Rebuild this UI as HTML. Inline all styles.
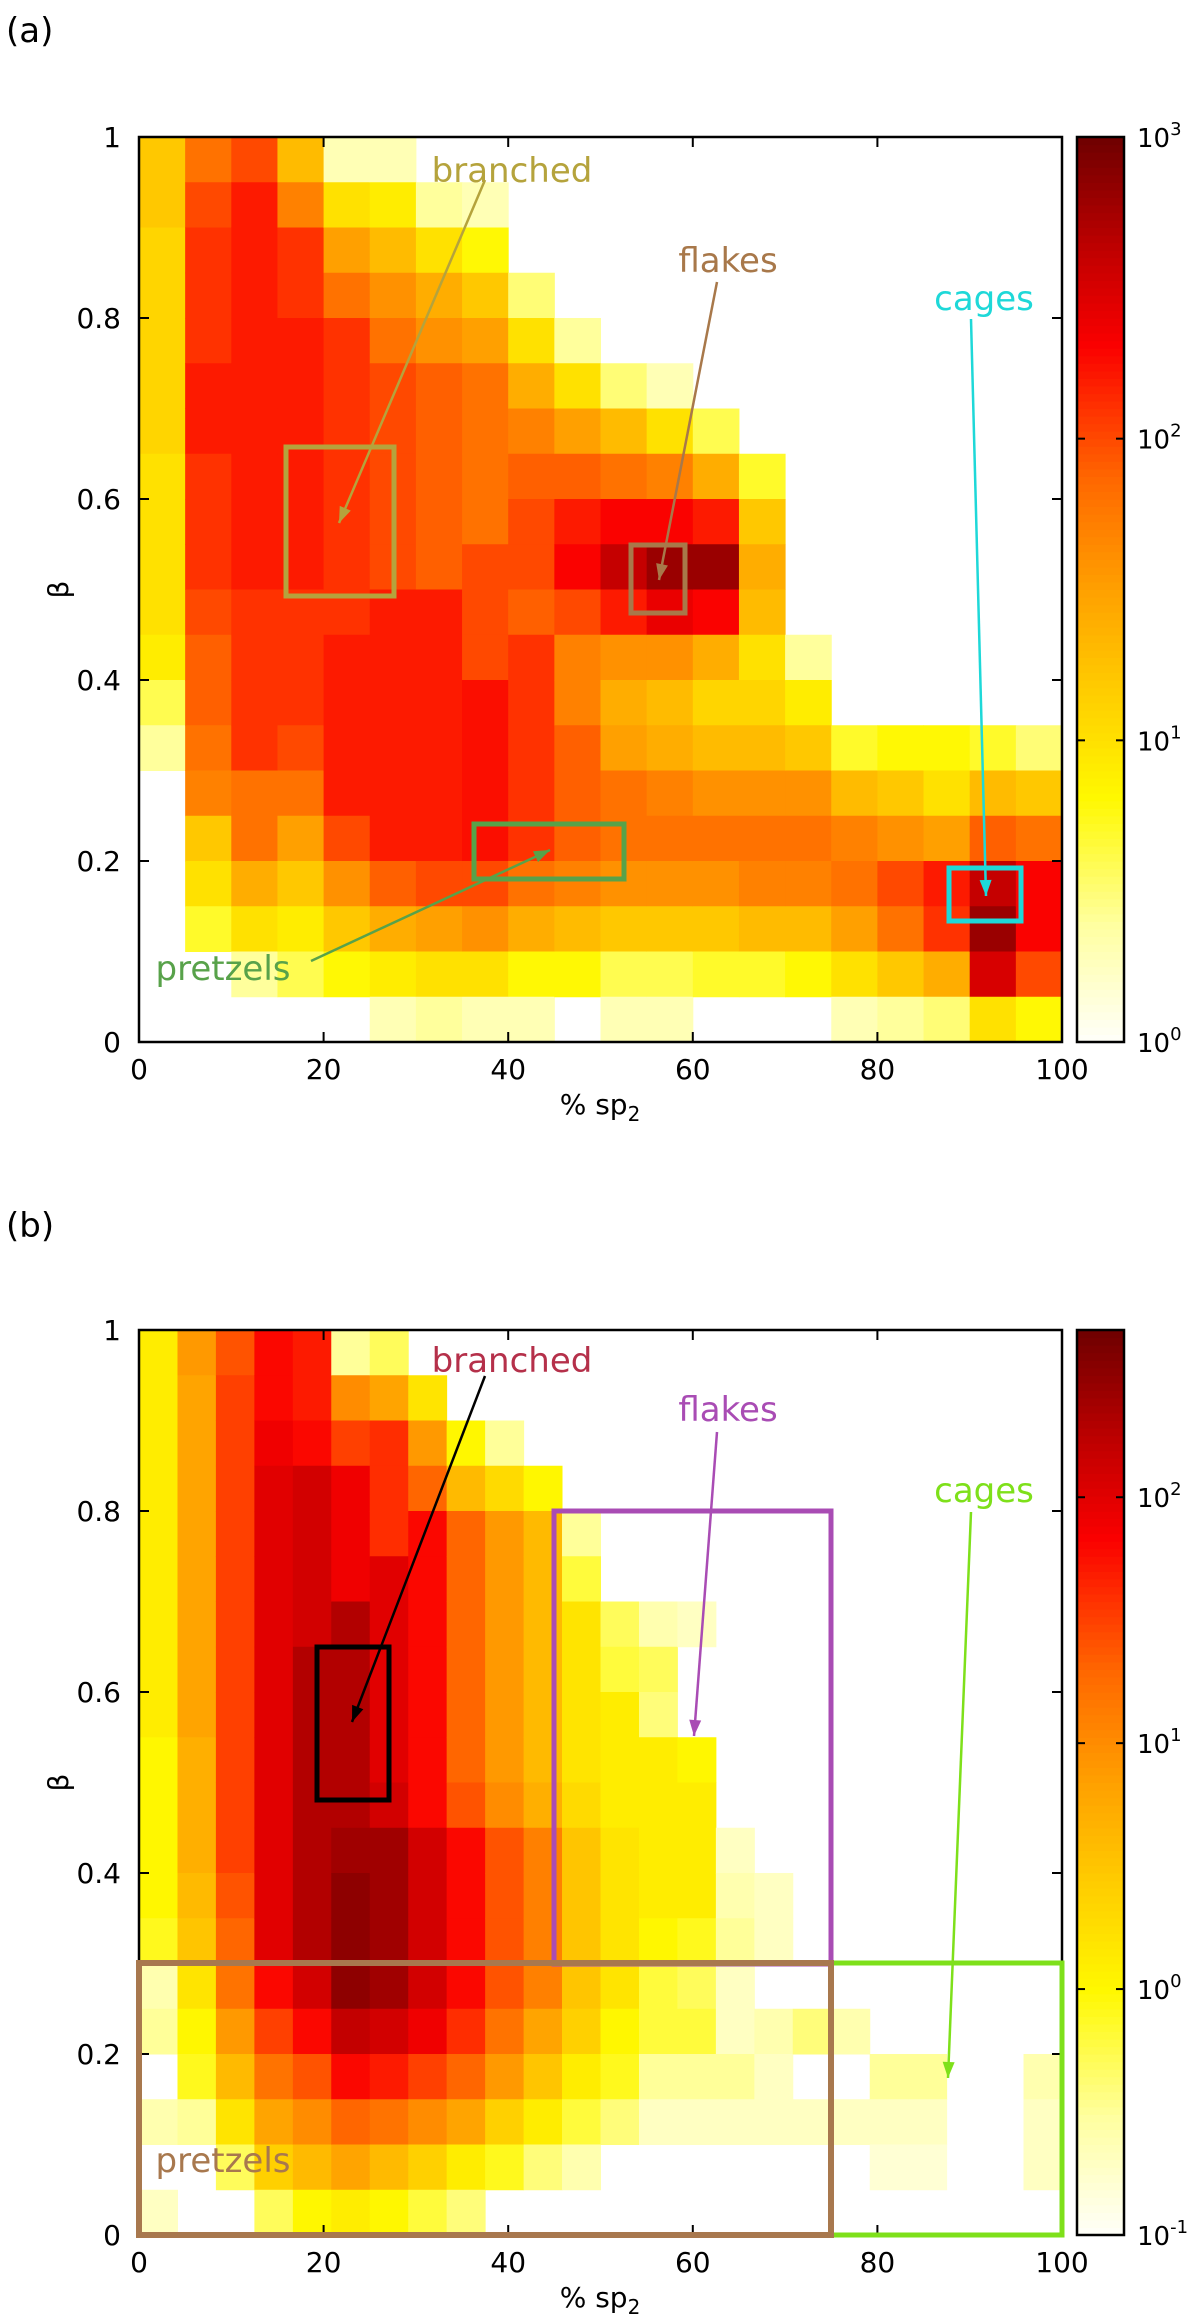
<!DOCTYPE html>
<html><head><meta charset="utf-8"><style>
html,body{margin:0;padding:0;background:#fff;}
svg{display:block;font-family:"DejaVu Sans","Liberation Sans",sans-serif;}
</style></head><body>
<svg id="fig" width="1200" height="2320" viewBox="0 0 1200 2320" xmlns="http://www.w3.org/2000/svg">
<g id="cellsA"></g>
<g id="cellsB"></g>
<g id="axes"></g>
<g id="ann"></g>
</svg>
<script>
const N = null;
// Panel (a): 20 sp2 bins (5% each) x 20 beta bins (0.05 each), top row = beta 1.0
const sp2BinsA = [0,5,10,15,20,25,30,35,40,45,50,55,60,65,70,75,80,85,90,95];
const betaBins = [0.95,0.9,0.85,0.8,0.75,0.7,0.65,0.6,0.55,0.5,0.45,0.4,0.35,0.3,0.25,0.2,0.15,0.1,0.05,0];
const logCountsA = [
[1.2,1.2,1.1,1.1,1.1,1.1,1.1,1.0,1.0,1.0,1.0,0.9,0.6,0.4,N,N,N,N,N,N],
[1.8,2.0,2.1,2.1,2.1,2.2,2.2,2.1,2.1,2.1,2.0,1.9,1.9,1.8,1.7,1.2,1.0,0.7,N,N],
[2.0,2.2,2.2,2.2,2.2,2.2,2.2,2.2,2.2,2.2,2.1,2.1,2.1,2.1,1.8,1.8,1.4,1.0,0.4,N],
[1.3,1.7,2.1,2.1,2.2,2.2,2.2,2.2,2.2,2.2,2.1,2.1,2.1,2.0,1.8,1.5,1.2,0.9,0.6,N],
[0.3,1.0,1.5,1.8,2.1,2.1,2.1,2.1,2.1,2.1,2.1,2.2,2.2,2.2,2.2,2.0,1.6,1.2,0.8,N],
[0.3,0.9,1.3,1.6,1.8,2.0,2.0,2.0,2.0,2.0,2.2,2.2,2.2,2.2,2.2,2.2,1.9,1.4,0.9,0.3],
[N,0.4,1.0,1.4,1.6,1.9,1.9,1.9,1.9,1.9,2.2,2.2,2.2,2.2,2.2,2.2,2.0,1.5,1.0,0.4],
[N,0.3,0.8,1.2,1.5,1.8,1.8,1.8,1.8,2.0,2.0,2.0,2.25,2.25,2.25,2.25,2.0,1.6,1.0,0.3],
[N,N,N,0.5,1.0,1.4,1.7,1.9,2.0,2.0,1.9,2.1,2.1,2.1,2.1,2.1,1.8,1.4,0.8,0.3],
[N,N,N,N,0.4,1.0,1.5,1.9,2.2,2.3,2.0,1.7,1.7,1.9,1.9,1.9,1.7,1.3,0.8,N],
[N,N,N,N,N,0.5,1.3,1.8,2.3,2.6,2.2,1.6,1.4,1.5,1.8,1.8,1.6,1.2,0.6,0.3],
[N,N,N,N,N,0.3,1.0,1.7,2.3,2.8,2.4,1.6,1.3,1.4,1.7,1.8,1.6,1.2,0.6,0.3],
[N,N,N,N,N,N,0.6,1.4,2.2,2.8,2.3,1.4,1.1,1.3,1.6,1.8,1.6,1.2,0.7,N],
[N,N,N,N,N,N,N,0.7,1.2,1.4,1.3,1.0,1.1,1.3,1.6,1.8,1.7,1.3,0.7,N],
[N,N,N,N,N,N,N,N,N,N,N,0.4,0.9,1.2,1.6,1.8,1.7,1.3,0.8,N],
[N,N,N,N,N,N,N,N,N,N,N,N,N,0.7,1.3,1.7,1.8,1.5,1.0,0.3],
[N,N,N,N,N,N,N,N,N,N,N,N,N,0.8,1.2,1.6,2.0,1.8,1.2,0.4],
[N,N,N,N,N,N,N,N,N,N,N,N,N,0.8,1.0,1.5,2.2,2.1,1.4,0.5],
[N,N,N,N,N,N,N,N,N,N,N,N,N,0.7,1.3,1.9,2.6,2.8,2.5,1.0],
[N,N,N,N,N,N,N,N,N,N,N,N,N,0.5,1.2,1.8,2.3,2.3,2.0,0.8]
];
// Panel (b): 24 sp2 bins (100/24 % each)
const sp2BinsB = [0,4.17,8.33,12.5,16.67,20.83,25,29.17,33.33,37.5,41.67,45.83,50,54.17,58.33,62.5,66.67,70.83,75,79.17,83.33,87.5,91.67,95.83];
const logCountsB = [
[0.1,0.1,0.1,0.1,0.1,0.1,0.1,0.1,0.1,0.0,0.0,0.0,0.0,-0.1,-0.6,-0.5,N,-0.6,N,-0.7],
[0.9,0.8,0.8,0.8,0.8,0.8,0.8,0.8,0.8,0.7,0.7,0.7,0.6,0.5,0.2,0.0,-0.1,-0.5,N,N],
[1.4,1.5,1.5,1.5,1.5,1.5,1.5,1.5,1.5,1.5,1.5,1.5,1.4,1.3,1.2,0.9,0.6,0.2,-0.3,N],
[1.8,1.8,1.9,2.0,2.0,2.0,2.0,2.0,2.0,2.0,2.0,2.0,2.0,2.0,1.8,1.5,1.2,0.8,0.4,-0.3],
[1.7,1.7,1.8,2.1,2.1,2.1,2.1,2.3,2.3,2.3,2.3,2.3,2.3,2.3,2.1,1.8,1.4,1.0,0.6,0.0],
[-0.5,1.0,1.5,1.9,1.9,1.9,2.3,2.3,2.3,2.3,2.3,2.4,2.5,2.5,2.5,2.2,1.8,1.3,0.8,0.1],
[-0.3,0.8,1.6,1.6,1.6,2.0,2.0,2.0,2.0,2.0,2.1,2.4,2.4,2.4,2.4,2.1,1.7,1.2,0.6,0.0],
[N,0.2,0.9,1.3,1.8,1.8,1.8,1.8,1.8,1.8,1.8,2.1,2.1,2.1,2.1,1.9,1.5,1.0,0.4,-0.2],
[N,N,0.0,0.6,1.3,1.3,1.3,1.3,1.3,1.3,1.4,1.8,1.8,1.8,1.8,1.6,1.3,0.8,0.1,-0.4],
[N,N,-0.5,0.3,0.9,0.9,0.9,0.9,0.9,0.9,1.0,1.4,1.4,1.4,1.4,1.2,0.9,0.4,-0.1,N],
[N,N,N,0.0,0.6,0.6,0.6,0.6,0.6,0.6,0.7,1.1,1.1,1.1,1.1,0.8,0.5,0.1,-0.4,N],
[N,N,N,N,-0.5,-0.2,0.2,0.2,0.2,0.2,0.3,0.5,0.5,0.5,0.5,0.4,0.1,-0.2,-0.6,N],
[N,N,N,N,N,N,-0.3,-0.2,0.1,0.1,0.1,0.2,0.2,0.2,0.2,0.0,-0.1,-0.4,N,N],
[N,N,N,N,N,N,-0.6,-0.3,-0.4,0.1,0.1,0.1,0.1,0.0,-0.2,-0.2,-0.5,-0.7,N,N],
[N,N,N,N,N,N,-0.7,N,N,0.0,0.1,0.1,0.1,-0.1,-0.3,-0.2,-0.5,-0.7,N,N],
[N,N,N,N,N,N,N,N,N,N,N,-0.7,-0.6,-0.5,-0.7,-0.7,-0.5,-0.7,N,N],
[N,N,N,N,N,N,N,N,N,N,N,N,-0.7,-0.7,N,-0.6,-0.7,-0.7,N,N],
[N,N,N,N,N,N,N,N,N,N,N,N,N,N,N,-0.4,N,-0.7,N,N],
[N,N,N,N,N,N,N,N,N,N,N,N,N,N,N,-0.6,N,-0.7,N,N],
[N,N,N,N,N,N,N,N,N,N,N,N,N,N,N,N,-0.5,-0.7,-0.8,N],
[N,N,N,N,N,N,N,N,N,N,N,N,N,N,N,N,-0.5,-0.7,-0.8,N],
[N,N,N,N,N,N,N,N,N,N,N,N,N,N,N,N,N,N,N,N],
[N,N,N,N,N,N,N,N,N,N,N,N,N,N,N,N,N,N,N,N],
[N,N,N,N,N,N,N,N,N,N,N,N,N,N,N,N,-0.6,-0.7,-0.7,N]
];
const xTicks = [0,20,40,60,80,100];
const yTicks = [0,0.2,0.4,0.6,0.8,1];
const yTickLabels = ["0","0.2","0.4","0.6","0.8","1"];
const cbarExpA = [0,1,2,3];
const cbarExpB = [-1,0,1,2];

const NS = "http://www.w3.org/2000/svg";
const X0 = 139, X1 = 1062;
const panels = [{top:137, bot:1042, vmin:0, vmax:3, data:logCountsA, bins:sp2BinsA, g:'cellsA', exps:cbarExpA, tag:'a'},
                {top:1330, bot:2235, vmin:-1, vmax:2.68, data:logCountsB, bins:sp2BinsB, g:'cellsB', exps:cbarExpB, tag:'b'}];
function xS(p){ return X0 + (X1 - X0) * p / 100; }
function yS(P, b){ return P.bot - (P.bot - P.top) * b; }
const stops = [[0,255,255,250],[0.13,255,255,160],[0.27,255,248,0],[0.38,255,208,0],[0.5,255,160,0],[0.62,255,105,0],[0.7,255,50,0],[0.77,250,0,0],[0.87,195,0,0],[1,110,0,0]];
function cmap(f){
  f = Math.max(0, Math.min(1, f));
  for (let i = 1; i < stops.length; i++) {
    if (f <= stops[i][0]) {
      const a = stops[i-1], b = stops[i], t = (f - a[0]) / (b[0] - a[0]);
      return 'rgb(' + [1,2,3].map(k => Math.round(a[k] + (b[k]-a[k]) * t)).join(',') + ')';
    }
  }
  return 'rgb(110,0,0)';
}
function el(tag, attrs, parent){
  const e = document.createElementNS(NS, tag);
  for (const k in attrs) e.setAttribute(k, attrs[k]);
  parent.appendChild(e); return e;
}
const axes = document.getElementById('axes');
panels.forEach(P => {
  const g = document.getElementById(P.g);
  P.data.forEach((col, ci) => {
    const xa = xS(P.bins[ci]);
    const xb = ci + 1 < P.bins.length ? xS(P.bins[ci+1]) : X1;
    col.forEach((v, ri) => {
      if (v === null) return;
      const b0 = betaBins[ri];
      const ya = yS(P, b0 + 0.05), yb = yS(P, b0);
      const r = el('rect', {x:xa.toFixed(2), y:ya.toFixed(2), width:(xb-xa+0.5).toFixed(2), height:(yb-ya+0.5).toFixed(2), fill:cmap((v - P.vmin)/(P.vmax - P.vmin))}, g);
      
      
    });
  });
  // frame
  const fr = el('rect', {x:X0, y:P.top, width:X1-X0, height:P.bot-P.top, fill:'none', stroke:'#000', 'stroke-width':2.5}, axes);
  
  
  xTicks.forEach(t => {
    const x = xS(t);
    el('line', {x1:x, y1:P.bot, x2:x, y2:P.bot-10, stroke:'#000','stroke-width':2}, axes);
    el('line', {x1:x, y1:P.top, x2:x, y2:P.top+10, stroke:'#000','stroke-width':2}, axes);
    const tx = el('text', {x:x, y:P.bot+37, 'font-size':28, 'text-anchor':'middle'}, axes);
    tx.textContent = String(t);
    
    
  });
  yTicks.forEach((t, i) => {
    const y = yS(P, t);
    el('line', {x1:X0, y1:y, x2:X0+10, y2:y, stroke:'#000','stroke-width':2}, axes);
    el('line', {x1:X1, y1:y, x2:X1-10, y2:y, stroke:'#000','stroke-width':2}, axes);
    const ty = el('text', {x:121, y:y+10, 'font-size':28, 'text-anchor':'end'}, axes);
    ty.textContent = yTickLabels[i];
    
    
  });
  const xl = el('text', {x:600, y:P.bot+72, 'font-size':28, 'text-anchor':'middle'}, axes);
  xl.innerHTML = '% sp<tspan font-size="20" dy="7">2</tspan>';
  
  
  const yc = (P.top + P.bot) / 2;
  const yl = el('text', {x:68, y:yc, 'font-size':28, 'text-anchor':'middle', transform:'rotate(-90 68 '+yc+')'}, axes);
  yl.textContent = 'β';
  
  
  const pl = el('text', {x:6, y:P.tag==='a'?42:1237, 'font-size':34}, axes);
  pl.textContent = '(' + P.tag + ')';
  
  
  // colorbar
  const CX0 = 1077, CX1 = 1124, n = 120, h = (P.bot - P.top) / n;
  for (let i = 0; i < n; i++) {
    const f = (i + 0.5) / n;
    el('rect', {x:CX0, y:(P.bot - (i+1)*h).toFixed(2), width:CX1-CX0, height:(h+0.6).toFixed(2), fill:cmap(f)}, axes);
  }
  const cf = el('rect', {x:CX0, y:P.top, width:CX1-CX0, height:P.bot-P.top, fill:'none', stroke:'#000','stroke-width':2.5}, axes);
  
  
  P.exps.forEach(e => {
    const y = P.bot - (P.bot - P.top) * (e - P.vmin) / (P.vmax - P.vmin);
    el('line', {x1:CX0, y1:y, x2:CX0+8, y2:y, stroke:'#000','stroke-width':2}, axes);
    el('line', {x1:CX1, y1:y, x2:CX1-8, y2:y, stroke:'#000','stroke-width':2}, axes);
    const ct = el('text', {x:1137, y:y+10, 'font-size':26}, axes);
    ct.innerHTML = '10<tspan font-size="18" dy="-12">' + (e < 0 ? '-' + (-e) : e) + '</tspan>';
    
    
  });
});
</script>
<svg width="0" height="0" style="position:absolute">
<defs>
<marker id="arr" viewBox="0 0 10 10" refX="9" refY="5" markerWidth="5" markerHeight="5" orient="auto-start-reverse"><path d="M0,1 L10,5 L0,9 z" fill="context-stroke"/></marker>
</defs></svg>
<script>
const ann = document.getElementById('ann');
const annots = [
 // panel a
 {t:'branched', c:'#b5a33c', tx:512, ty:182, box:[286,447,108,149], ar:[485,180,339,523], bw:5},
 {t:'flakes', c:'#a8784a', tx:728, ty:272, box:[631,545,54,68], ar:[717,282,659,580], bw:5},
 {t:'cages', c:'#1ed8d8', tx:984, ty:310, box:[949,868,72,53], ar:[971,319,986,896], bw:5},
 {t:'pretzels', c:'#58a24a', tx:223, ty:980, box:[474,824,150,55], ar:[311,961,550,850], bw:5},
 // panel b
 {t:'branched', c:'#b5304a', tx:512, ty:1372, box:[317,1647,72,153], ar:[485,1376,352,1722], bw:5, ac:'#000', bc:'#000'},
 {t:'flakes', c:'#a94cb4', tx:728, ty:1421, box:[554,1511,277,453], ar:[717,1432,694,1736], bw:5},
 {t:'cages', c:'#7ee01a', tx:984, ty:1502, box:[831,1963,231,272], ar:[971,1512,948,2078], bw:5},
 {t:'pretzels', c:'#a8784e', tx:223, ty:2172, box:[139,1963,692,272], ar:null, bw:6}
];
annots.forEach(a => {
  const NSs = "http://www.w3.org/2000/svg";
  const r = document.createElementNS(NSs, 'rect');
  r.setAttribute('x', a.box[0]); r.setAttribute('y', a.box[1]);
  r.setAttribute('width', a.box[2]); r.setAttribute('height', a.box[3]);
  r.setAttribute('fill', 'none'); r.setAttribute('stroke', a.bc || a.c); r.setAttribute('stroke-width', a.bw);
  
  
  ann.appendChild(r);
  if (a.ar) {
    const col = a.ac || a.c;
    const l = document.createElementNS(NSs, 'line');
    l.setAttribute('x1', a.ar[0]); l.setAttribute('y1', a.ar[1]);
    l.setAttribute('x2', a.ar[2]); l.setAttribute('y2', a.ar[3]);
    l.setAttribute('stroke', col); l.setAttribute('stroke-width', 2.5);
    
    
    ann.appendChild(l);
    const ang = Math.atan2(a.ar[3]-a.ar[1], a.ar[2]-a.ar[0]);
    const L = 16, W = 6;
    const bx = a.ar[2] - L*Math.cos(ang), by = a.ar[3] - L*Math.sin(ang);
    const p = document.createElementNS(NSs, 'polygon');
    p.setAttribute('points', a.ar[2]+','+a.ar[3]+' '+(bx - W*Math.sin(ang))+','+(by + W*Math.cos(ang))+' '+(bx + W*Math.sin(ang))+','+(by - W*Math.cos(ang)));
    p.setAttribute('fill', col);
    
    
    ann.appendChild(p);
  }
  const tx = document.createElementNS(NSs, 'text');
  tx.setAttribute('x', a.tx); tx.setAttribute('y', a.ty);
  tx.setAttribute('text-anchor', 'middle'); tx.setAttribute('font-size', 34);
  tx.setAttribute('fill', a.c);
  tx.textContent = a.t;
  
  
  ann.appendChild(tx);
});
</script>
</body></html>
